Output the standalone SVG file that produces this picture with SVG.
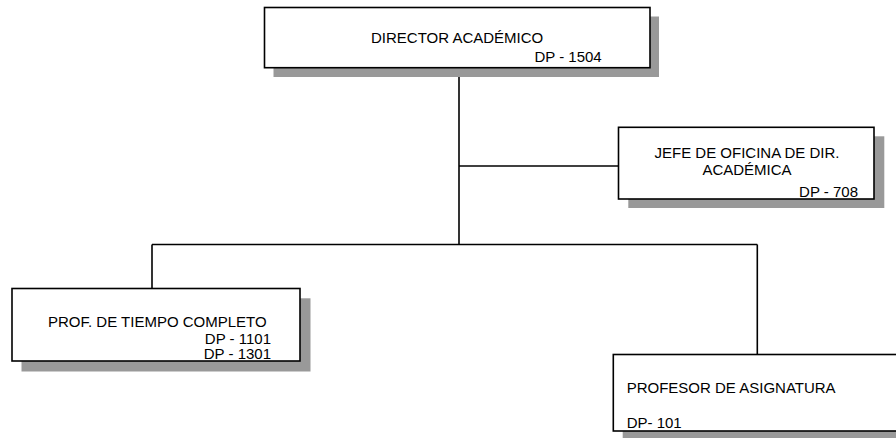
<svg xmlns="http://www.w3.org/2000/svg" width="896" height="438" viewBox="0 0 896 438">
<style>
.shadow{fill:#999999;stroke:none}
.box{fill:#ffffff;stroke:#000000;stroke-width:1.6}
.conn{fill:none;stroke:#000000;stroke-width:1.6}
text{font-family:"Liberation Sans",Arial,sans-serif;font-size:15px;fill:#000000}
</style>
<rect x="0" y="0" width="896" height="438" fill="#ffffff"/>
<g id="connectors">
<line class="conn" x1="459" y1="68" x2="459" y2="244.5"/>
<line class="conn" x1="459" y1="166" x2="618.5" y2="166"/>
<line class="conn" x1="152" y1="244.5" x2="757.3" y2="244.5"/>
<line class="conn" x1="152" y1="244.5" x2="152" y2="288.5"/>
<line class="conn" x1="757.3" y1="244.5" x2="757.3" y2="354.5"/>
</g>
<g id="node-director">
<rect class="shadow" x="273.5" y="16.5" width="385.5" height="60.5"/>
<rect class="box" x="264.5" y="7.5" width="385.5" height="60.2"/>
<text x="371" y="43" font-size="14.7">DIRECTOR ACADÉMICO</text>
<text x="601.7" y="62" text-anchor="end" font-size="14.6">DP - 1504</text>
</g>
<g id="node-jefe">
<rect class="shadow" x="628.3" y="136.3" width="256" height="71.7"/>
<rect class="box" x="618.5" y="127.3" width="255.5" height="71.7"/>
<text x="747" y="158.3" text-anchor="middle">JEFE DE OFICINA DE DIR.</text>
<text x="747" y="175" text-anchor="middle">ACADÉMICA</text>
<text x="858" y="197" text-anchor="end">DP - 708</text>
</g>
<g id="node-prof-tiempo">
<rect class="shadow" x="21.5" y="298.3" width="289" height="73.2"/>
<rect class="box" x="12" y="288.5" width="288" height="72.5"/>
<text x="48" y="326.7" font-size="14.6">PROF. DE TIEMPO COMPLETO</text>
<text x="271" y="343.6" text-anchor="end" font-size="13.5">DP - 1101</text>
<text x="271" y="359.3" text-anchor="end" font-size="13.5">DP - 1301</text>
</g>
<g id="node-profesor">
<rect class="shadow" x="622.7" y="364" width="300" height="80"/>
<rect class="box" x="613.3" y="354.5" width="300" height="76.5"/>
<text x="626.7" y="393.3" font-size="15.3">PROFESOR DE ASIGNATURA</text>
<text x="626.7" y="428.3" font-size="15.3">DP- 101</text>
</g>
</svg>
